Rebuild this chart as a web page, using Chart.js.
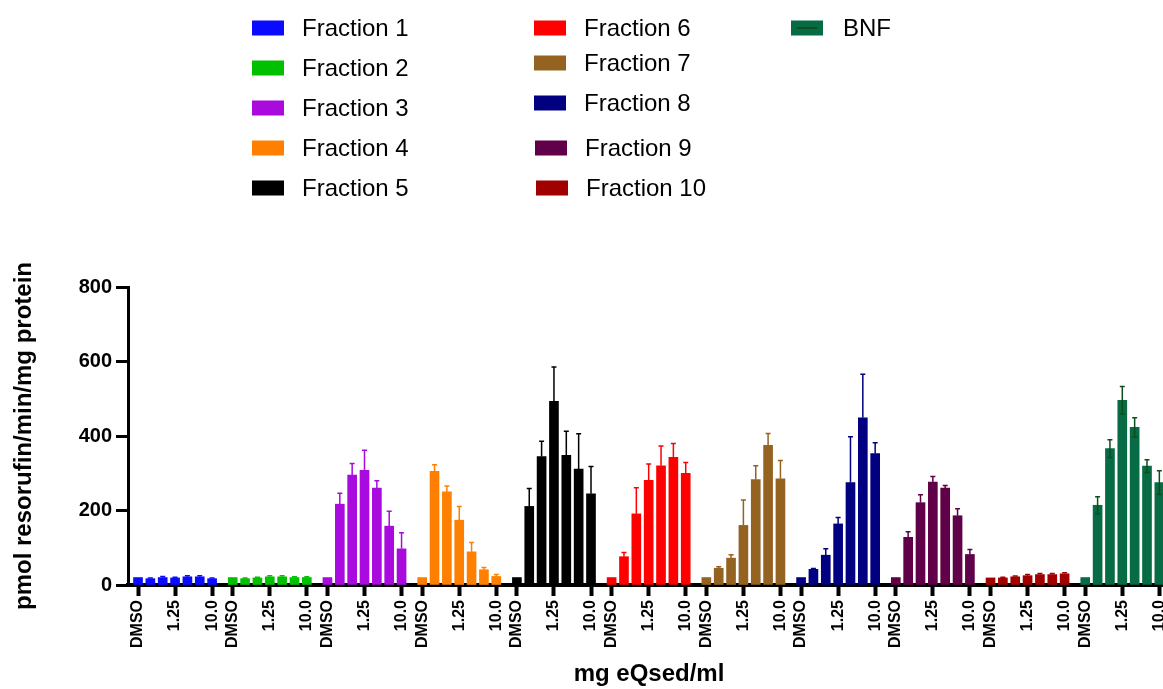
<!DOCTYPE html>
<html lang="en">
<head>
  <meta charset="UTF-8">
  <title>Fractions - resorufin formation</title>
  <style>
    body, html {
      margin: 0;
      padding: 0;
      background-color: #ffffff;
      overflow: hidden;
    }
    #chart-container {
      width: 1190px;
      height: 689px;
    }
  </style>
</head>
<body>
  <div id="chart-container">
    <canvas id="erodChart" width="1190" height="689"></canvas>
  </div>

  <script src="https://cdn.jsdelivr.net/npm/chart.js"></script>
  <script>
    // 7 doses per fraction, only 3 of them get a label on the axis
    const doseCount = 7;
    const doseTickIndex = [0, 3, 6];
    const doseTickLabels = ['DMSO', '1.25', '10.0'];

    const seriesNames = ['Fraction 1', 'Fraction 2', 'Fraction 3', 'Fraction 4', 'Fraction 5',
      'Fraction 6', 'Fraction 7', 'Fraction 8', 'Fraction 9', 'Fraction 10', 'BNF'];
    const seriesColors = ['#0a0aff', '#00c000', '#a90ade', '#ff8000', '#000000',
      '#ff0000', '#946322', '#000080', '#600048', '#a00000', '#076b45'];

    // mean values (pmol resorufin/min/mg protein)
    const fraction1 = [20, 17, 20, 19, 22, 22, 17];
    const fraction2 = [20, 17, 19, 22, 22, 20, 20];
    const fraction3 = [20, 217, 295, 308, 260, 158, 97];
    const fraction4 = [20, 305, 250, 174, 89, 41, 23];
    const fraction5 = [20, 211, 345, 493, 348, 311, 245];
    const fraction6 = [20, 76, 191, 281, 320, 343, 300];
    const fraction7 = [20, 45, 72, 160, 283, 375, 285];
    const fraction8 = [20, 42, 80, 164, 275, 449, 353];
    const fraction9 = [20, 128, 221, 276, 260, 186, 82];
    const fraction10 = [19, 19, 22, 25, 28, 28, 30];
    const bnf = [20, 214, 366, 496, 423, 319, 275];

    // error (SD) values
    const fraction1Err = [0, 2, 3, 2, 3, 3, 2];
    const fraction2Err = [0, 2, 2, 3, 3, 2, 2];
    const fraction3Err = [0, 29, 31, 54, 20, 40, 43];
    const fraction4Err = [0, 18, 16, 37, 25, 6, 5];
    const fraction5Err = [0, 48, 41, 92, 65, 95, 73];
    const fraction6Err = [0, 11, 70, 44, 53, 37, 29];
    const fraction7Err = [0, 4, 9, 68, 37, 32, 49];
    const fraction8Err = [0, 2, 17, 17, 123, 117, 29];
    const fraction9Err = [0, 15, 21, 15, 7, 19, 13];
    const fraction10Err = [0, 2, 2, 3, 3, 3, 3];
    const bnfErr = [0, 23, 24, 37, 26, 17, 32];

    const allValues = [fraction1, fraction2, fraction3, fraction4, fraction5, fraction6,
      fraction7, fraction8, fraction9, fraction10, bnf];
    const allErrors = [fraction1Err, fraction2Err, fraction3Err, fraction4Err, fraction5Err, fraction6Err,
      fraction7Err, fraction8Err, fraction9Err, fraction10Err, bnfErr];

    const groupGap = 0.67; // empty space between fractions, in bar slots
    const groupStep = doseCount + groupGap;
    const xPos = (g, i) => g * groupStep + i;

    const tickValues = [];
    const tickTexts = [];
    seriesNames.forEach((name, g) => {
      doseTickIndex.forEach((i, k) => {
        tickValues.push(xPos(g, i));
        tickTexts.push(doseTickLabels[k]);
      });
    });

    const datasets = seriesNames.map((name, g) => ({
      label: name,
      data: allValues[g].map((v, i) => ({ x: xPos(g, i), y: v })),
      errors: allErrors[g],
      backgroundColor: seriesColors[g],
      errorColor: name === 'BNF' ? '#0b4f1c' : seriesColors[g],
      bothWays: name === 'BNF',
      borderWidth: 0,
      barThickness: 9,
      grouped: false
    }));

    const fontFamily = "'Liberation Sans', Arial, sans-serif";

    const errorBars = {
      id: 'errorBars',
      afterDatasetsDraw(chart) {
        const ctx = chart.ctx;
        const yScale = chart.scales.y;
        ctx.save();
        chart.data.datasets.forEach((ds, d) => {
          const meta = chart.getDatasetMeta(d);
          meta.data.forEach((bar, i) => {
            const err = ds.errors[i];
            if (!err) return;
            const v = ds.data[i].y;
            const top = yScale.getPixelForValue(v + err);
            const bottom = ds.bothWays ? yScale.getPixelForValue(v - err) : bar.y;
            ctx.strokeStyle = ds.errorColor;
            ctx.lineWidth = 1.5;
            ctx.beginPath();
            ctx.moveTo(bar.x, bottom);
            ctx.lineTo(bar.x, top);
            ctx.moveTo(bar.x - 2.5, top);
            ctx.lineTo(bar.x + 2.5, top);
            if (ds.bothWays) {
              ctx.moveTo(bar.x - 2.5, bottom);
              ctx.lineTo(bar.x + 2.5, bottom);
            }
            ctx.stroke();
          });
        });
        ctx.restore();
      }
    };

    // legend laid out in three columns like the original figure
    const legendSpots = [[252, 28], [252, 68], [252, 108], [252, 148], [252, 188],
      [534, 28], [534, 63], [534, 103], [535, 148], [536, 188], [791, 28]];

    const figureLegend = {
      id: 'figureLegend',
      afterDraw(chart) {
        const ctx = chart.ctx;
        ctx.save();
        ctx.font = '24px ' + fontFamily;
        ctx.textBaseline = 'middle';
        chart.data.datasets.forEach((ds, d) => {
          const [x, y] = legendSpots[d];
          ctx.fillStyle = ds.backgroundColor;
          ctx.fillRect(x, y - 7.5, 32, 15);
          if (ds.bothWays) {
            ctx.strokeStyle = ds.errorColor;
            ctx.lineWidth = 2;
            ctx.beginPath();
            ctx.moveTo(x + 6, y);
            ctx.lineTo(x + 26, y);
            ctx.stroke();
          }
          ctx.fillStyle = '#000';
          ctx.fillText(ds.label, x + (ds.bothWays ? 52 : 50), y + 1);
        });
        ctx.restore();
      }
    };

    const ctx = document.getElementById('erodChart').getContext('2d');
    new Chart(ctx, {
      type: 'bar',
      data: { datasets },
      options: {
        responsive: false,
        animation: false,
        layout: { padding: { top: 287, right: 20, bottom: 0, left: 0 } },
        scales: {
          x: {
            type: 'linear',
            offset: false,
            min: -0.81,
            max: -0.81 + (1170 - 128) / 12.35,
            afterBuildTicks: axis => { axis.ticks = tickValues.map(v => ({ value: v })); },
            afterFit: axis => { axis.height = 104; },
            grid: {
              offset: false,
              drawOnChartArea: false,
              tickLength: 11,
              tickWidth: 4,
              tickColor: '#000'
            },
            border: { color: '#000', width: 4 },
            ticks: {
              autoSkip: false,
              minRotation: 90,
              maxRotation: 90,
              padding: 4,
              color: '#000',
              font: { family: fontFamily, size: 16, weight: 'bold' },
              callback: (value, index) => tickTexts[index]
            },
            title: {
              display: true,
              text: 'mg eQsed/ml',
              color: '#000',
              padding: { top: 0, bottom: 0 },
              font: { family: fontFamily, size: 24, weight: 'bold' }
            }
          },
          y: {
            min: 0,
            max: 800,
            afterFit: axis => { axis.width = 128; },
            grid: {
              drawOnChartArea: false,
              tickLength: 12,
              tickWidth: 3,
              tickColor: '#000'
            },
            border: { color: '#000', width: 3 },
            ticks: {
              stepSize: 200,
              padding: 4,
              color: '#000',
              font: { family: fontFamily, size: 20, weight: 'bold' }
            },
            title: {
              display: true,
              text: 'pmol resorufin/min/mg protein',
              color: '#000',
              padding: { top: 10, bottom: 0 },
              font: { family: fontFamily, size: 24, weight: 'bold' }
            }
          }
        },
        plugins: {
          legend: { display: false },
          tooltip: { enabled: false }
        }
      },
      plugins: [errorBars, figureLegend]
    });
  </script>
</body>
</html>
